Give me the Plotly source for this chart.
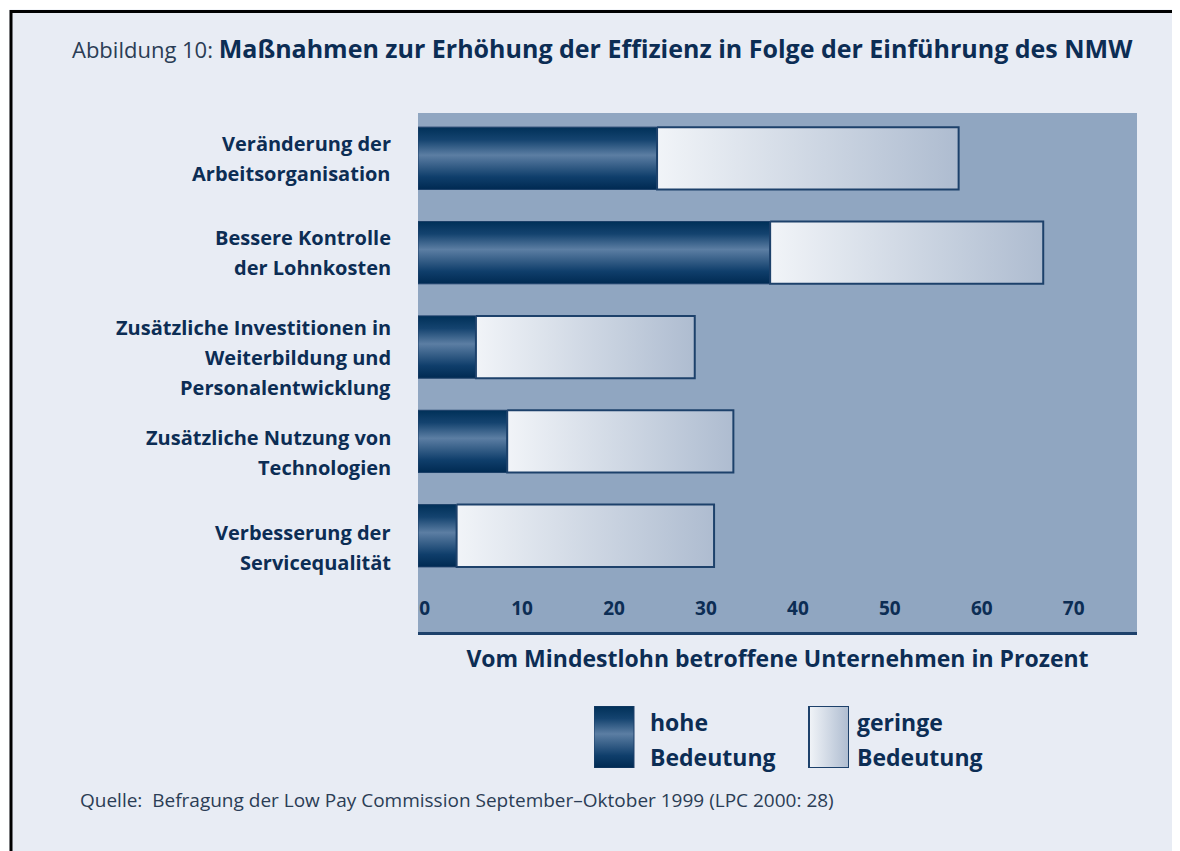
import plotly.graph_objects as go

# Data
kategorien = [
    ["Veränderung der", "Arbeitsorganisation"],
    ["Bessere Kontrolle", "der Lohnkosten"],
    ["Zusätzliche Investitionen in", "Weiterbildung und", "Personalentwicklung"],
    ["Zusätzliche Nutzung von", "Technologien"],
    ["Verbesserung der", "Servicequalität"],
]
hohe_bedeutung = [26, 38.3, 6.3, 9.7, 4.2]
geringe_bedeutung = [32.8, 29.7, 23.8, 24.6, 28.0]
tick_werte = [0, 10, 20, 30, 40, 50, 60, 70]

# the page body adds an 8px margin, so the figure is sized/positioned around it
OFF = 8
W, H = 1180 - OFF, 851 - OFF


def px(sx):
    return (sx - OFF) / W


def py(sy):
    return 1 - (sy - OFF) / H


FONT = "Open Sans"
NAVY = "#0c2d54"
BG = "#e8ecf4"
PLOT_BG = "#90a6c1"
DARK_SCALE = [[0, "#002a52"], [0.2, "#0f3e6b"], [0.55, "#5c7ea3"], [0.8, "#14436f"], [1, "#003058"]]
LIGHT_SCALE = [[0, "#f1f4f8"], [1, "#aebcd0"]]
BAR_W = 0.66
# small vertical nudges of the category labels (px, up is positive)
LABEL_NUDGE = [3, 3, -7, -8, -9]
LINE_GAP = 30

fig = go.Figure()

# Bars drawn as filled polygons so they can carry a gradient
for i, (h, g) in enumerate(zip(hohe_bedeutung, geringe_bedeutung)):
    y0, y1 = i - BAR_W / 2, i + BAR_W / 2
    fig.add_trace(go.Scatter(
        x=[0, h, h, 0, 0], y=[y0, y0, y1, y1, y0],
        fill="toself", mode="lines",
        line=dict(color="#1c3f68", width=1),
        fillgradient=dict(type="vertical", colorscale=DARK_SCALE),
        hoverinfo="skip", showlegend=False,
    ))
    fig.add_trace(go.Scatter(
        x=[h, h + g, h + g, h, h], y=[y0, y0, y1, y1, y0],
        fill="toself", mode="lines",
        line=dict(color="#1d416b", width=2),
        fillgradient=dict(type="horizontal", colorscale=LIGHT_SCALE),
        hoverinfo="skip", showlegend=False,
    ))

# Legend swatches on a hidden helper axis
swatch_w = 40
legend_span = 255
fig.add_trace(go.Scatter(
    x=[0, swatch_w, swatch_w, 0, 0], y=[0, 0, 1, 1, 0],
    fill="toself", mode="lines", line=dict(color="#1c3f68", width=1),
    fillgradient=dict(type="vertical", colorscale=DARK_SCALE),
    xaxis="x2", yaxis="y2", hoverinfo="skip", showlegend=False,
))
fig.add_trace(go.Scatter(
    x=[legend_span - swatch_w, legend_span, legend_span, legend_span - swatch_w, legend_span - swatch_w],
    y=[0, 0, 1, 1, 0],
    fill="toself", mode="lines", line=dict(color="#1d416b", width=2),
    fillgradient=dict(type="horizontal", colorscale=LIGHT_SCALE),
    xaxis="x2", yaxis="y2", hoverinfo="skip", showlegend=False,
))

annotations = []

# Title
annotations.append(dict(
    text="<span style='color:#2b3d55'>Abbildung 10: </span>"
         "<b style='font-size:25px'>Maßnahmen zur Erhöhung der Effizienz in Folge der Einführung des NMW</b>",
    x=px(70), y=py(48), xref="paper", yref="paper", xanchor="left", yanchor="middle",
    showarrow=False, font=dict(family=FONT, size=22, color=NAVY),
))

# Category labels, one annotation per line for wider line spacing
for i, lines in enumerate(kategorien):
    n = len(lines)
    for k, line in enumerate(lines):
        annotations.append(dict(
            text=f"<b>{line}</b>", x=px(393), y=i, xref="paper", yref="y",
            xanchor="right", yanchor="middle",
            yshift=-((k - (n - 1) / 2) * LINE_GAP) - 3 + LABEL_NUDGE[i],
            showarrow=False, font=dict(family=FONT, size=20, color=NAVY),
        ))

# Legend texts
for x_px, lines in [(648, ["hohe", "Bedeutung"]), (855, ["geringe", "Bedeutung"])]:
    for k, line in enumerate(lines):
        annotations.append(dict(
            text=f"<b>{line}</b>", x=px(x_px), y=py(722 + 35 * k),
            xref="paper", yref="paper", xanchor="left", yanchor="middle",
            showarrow=False, font=dict(family=FONT, size=23, color=NAVY),
        ))

# Source
annotations.append(dict(
    text="Quelle:  Befragung der Low Pay Commission September–Oktober 1999 (LPC 2000: 28)",
    x=px(78), y=py(800), xref="paper", yref="paper", xanchor="left", yanchor="middle",
    showarrow=False, font=dict(family=FONT, size=19, color="#2b3d55"),
))

shapes = [
    # plot area background (kept as a shape so the legend axes stay transparent)
    dict(type="rect", xref="x domain", yref="y domain", x0=0, x1=1, y0=0, y1=1,
         fillcolor=PLOT_BG, line=dict(width=0), layer="below"),
    # thin white strip and black frame on left/top
    dict(type="rect", xref="paper", yref="paper", x0=0, x1=1.5 / W, y0=0, y1=1,
         fillcolor="white", line=dict(width=0), layer="above"),
    dict(type="rect", xref="paper", yref="paper", x0=0, x1=1, y0=1 - 1.5 / H, y1=1,
         fillcolor="white", line=dict(width=0), layer="above"),
    dict(type="line", xref="paper", yref="paper", x0=3 / W, x1=3 / W, y0=0, y1=1 - 2 / H,
         line=dict(color="black", width=3), layer="above"),
    dict(type="line", xref="paper", yref="paper", x0=2 / W, x1=1, y0=1 - 3.5 / H, y1=1 - 3.5 / H,
         line=dict(color="black", width=3), layer="above"),
]

fig.update_layout(
    width=W, height=H,
    margin=dict(l=0, r=0, t=0, b=0),
    paper_bgcolor=BG, plot_bgcolor=BG,
    showlegend=False,
    annotations=annotations,
    shapes=shapes,
    xaxis=dict(
        domain=[px(418), px(1137)], range=[0, 78.2],
        tickvals=tick_werte, ticks="", showgrid=False, zeroline=False,
        ticklabelposition="inside right", ticklabelstandoff=11,
        tickfont=dict(family=FONT, size=19, color=NAVY, weight="bold"),
        showline=True, linecolor="#1d416b", linewidth=2.5,
        title=dict(text="<b>Vom Mindestlohn betroffene Unternehmen in Prozent</b>",
                   font=dict(family=FONT, size=23, color=NAVY), standoff=31),
        automargin=False, fixedrange=True,
    ),
    yaxis=dict(
        domain=[py(632), py(113)], range=[5.02, -0.48],
        showticklabels=False, showgrid=False, zeroline=False, ticks="",
        automargin=False, fixedrange=True,
    ),
    xaxis2=dict(
        domain=[px(594), px(849)], range=[0, legend_span], anchor="y2",
        visible=False, fixedrange=True,
    ),
    yaxis2=dict(
        domain=[py(768), py(706)], range=[0, 1], anchor="x2",
        visible=False, fixedrange=True,
    ),
)

fig.write_html("out.html")
